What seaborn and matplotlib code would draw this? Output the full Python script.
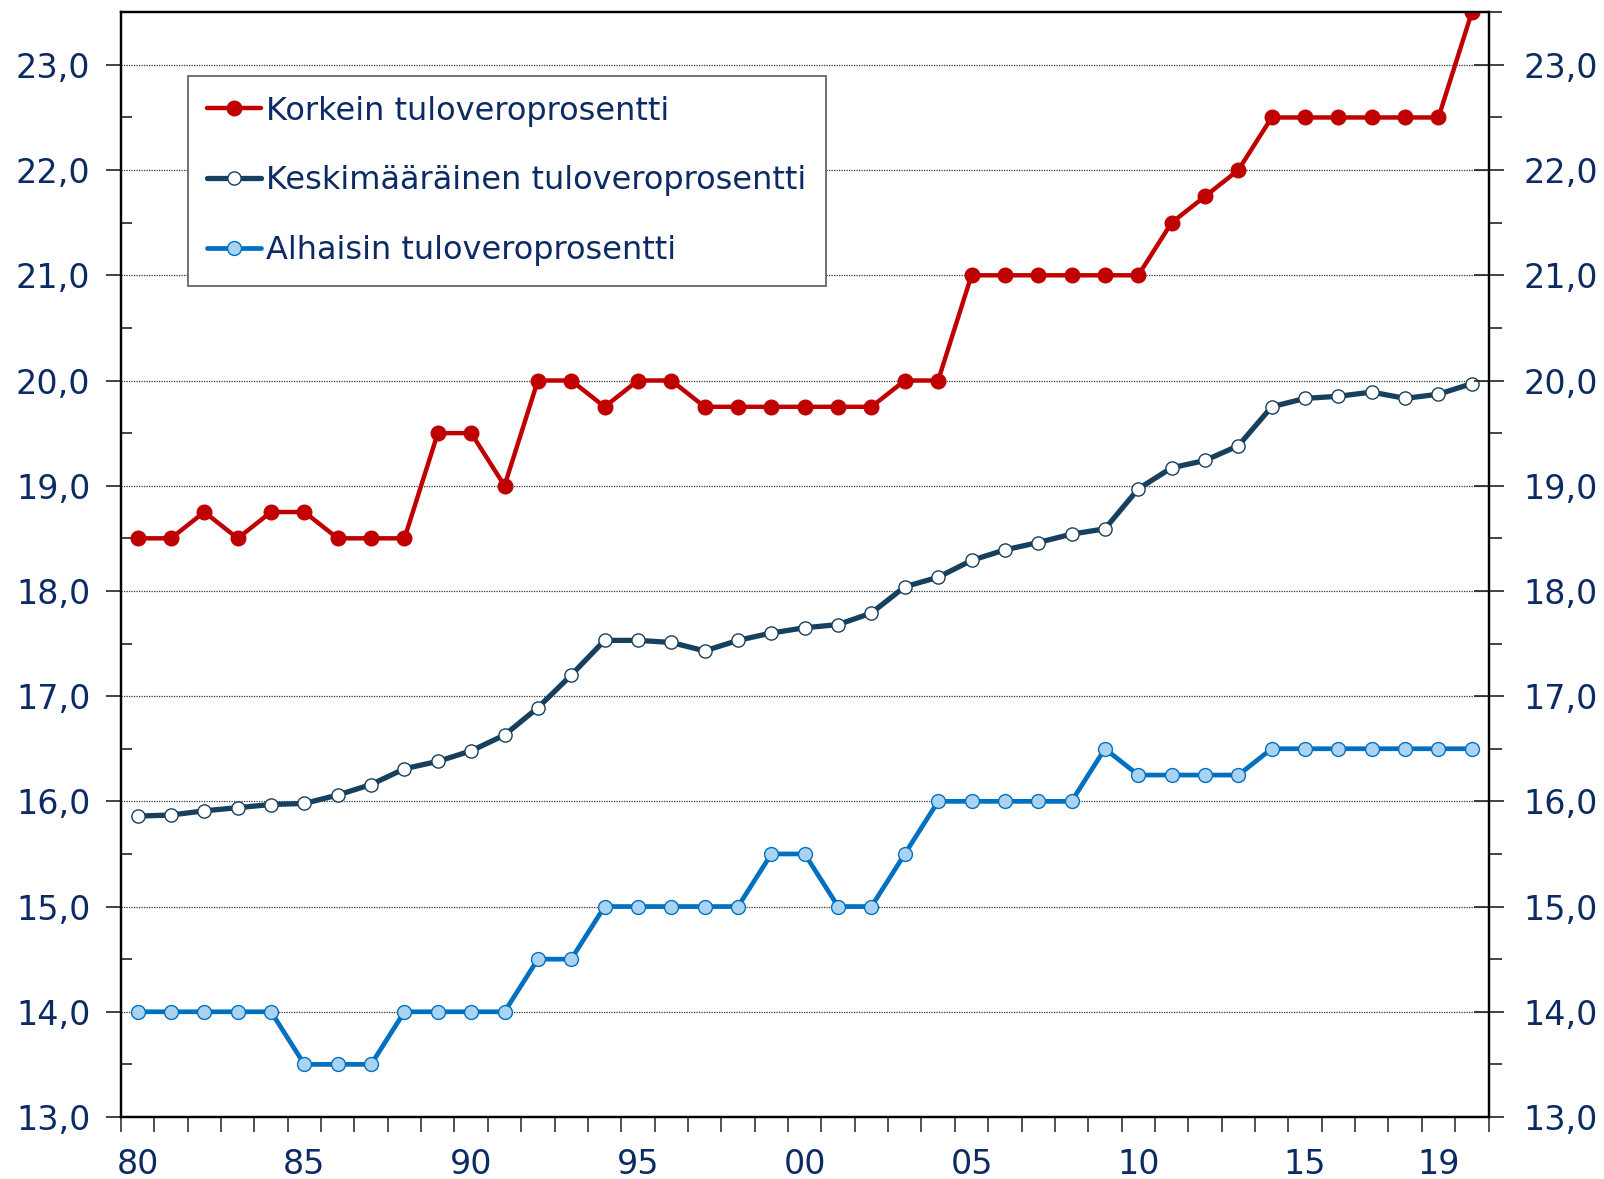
import numpy as np
import pandas as pd
import matplotlib
matplotlib.use("Agg")
import matplotlib.pyplot as plt
import seaborn as sns
from matplotlib.ticker import FixedLocator, FuncFormatter

years = list(range(1980, 2021))

korkein = [18.5, 18.5, 18.75, 18.5, 18.75, 18.75, 18.5, 18.5, 18.5, 19.5,
           19.5, 19.0, 20.0, 20.0, 19.75, 20.0, 20.0, 19.75, 19.75, 19.75,
           19.75, 19.75, 19.75, 20.0, 20.0, 21.0, 21.0, 21.0, 21.0, 21.0,
           21.0, 21.5, 21.75, 22.0, 22.5, 22.5, 22.5, 22.5, 22.5, 22.5, 23.5]

keskimaarainen = [15.86, 15.87, 15.91, 15.94, 15.97, 15.98, 16.06, 16.16, 16.31, 16.38,
                  16.48, 16.63, 16.89, 17.20, 17.53, 17.53, 17.51, 17.43, 17.53, 17.60,
                  17.65, 17.68, 17.79, 18.04, 18.13, 18.29, 18.39, 18.46, 18.54, 18.59,
                  18.97, 19.17, 19.24, 19.38, 19.75, 19.83, 19.85, 19.89, 19.83, 19.87, 19.97]

alhaisin = [14.0, 14.0, 14.0, 14.0, 14.0, 13.5, 13.5, 13.5, 14.0, 14.0,
            14.0, 14.0, 14.5, 14.5, 15.0, 15.0, 15.0, 15.0, 15.0, 15.5,
            15.5, 15.0, 15.0, 15.5, 16.0, 16.0, 16.0, 16.0, 16.0, 16.5,
            16.25, 16.25, 16.25, 16.25, 16.5, 16.5, 16.5, 16.5, 16.5, 16.5, 16.5]

series_labels = ["Korkein tuloveroprosentti",
                 "Keskimääräinen tuloveroprosentti",
                 "Alhaisin tuloveroprosentti"]

xtick_years = [1980, 1985, 1990, 1995, 2000, 2005, 2010, 2015, 2019]
xtick_labels = ["80", "85", "90", "95", "00", "05", "10", "15", "19"]
ytick_values = list(range(13, 24))

sns.set_style("white")
plt.rcParams["font.family"] = ["DejaVu Sans"]

TEXT = "#0c2a64"
RED = "#c00000"
NAVY = "#17405e"
BLUE = "#0070c0"
LIGHT = "#a9d3f1"

fig = plt.figure(figsize=(16.04, 11.79), dpi=100)
ax = fig.add_axes([0.0754, 0.0526, 0.928 - 0.0754, 0.9896 - 0.0526])

df = pd.DataFrame({"year": years, "k": korkein, "m": keskimaarainen, "a": alhaisin})

sns.lineplot(data=df, x="year", y="k", ax=ax, color=RED, linewidth=3.2,
             marker="o", markersize=10.5, markerfacecolor=RED, markeredgecolor=RED,
             markeredgewidth=1.0, label=series_labels[0], zorder=5)
sns.lineplot(data=df, x="year", y="m", ax=ax, color=NAVY, linewidth=3.8,
             marker="o", markersize=9.5, markerfacecolor="white", markeredgecolor=NAVY,
             markeredgewidth=1.0, label=series_labels[1], zorder=4)
sns.lineplot(data=df, x="year", y="a", ax=ax, color=BLUE, linewidth=3.4,
             marker="o", markersize=10, markerfacecolor=LIGHT, markeredgecolor=BLUE,
             markeredgewidth=1.0, label=series_labels[2], zorder=3)

ax.set_xlim(1979.5, 2020.5)
ax.set_ylim(13, 23.5)
ax.set_xlabel("")
ax.set_ylabel("")

# x axis: labels at years, ticks at year boundaries
ax.xaxis.set_major_locator(FixedLocator(xtick_years))
ax.set_xticklabels(xtick_labels)
ax.xaxis.set_minor_locator(FixedLocator(np.arange(1979.5, 2021.0, 1.0)))
ax.tick_params(axis="x", which="major", length=0, pad=22, labelsize=24, labelcolor=TEXT)
ax.tick_params(axis="x", which="minor", direction="out", length=11, width=1.2, color="#333333", bottom=True)

fmt = FuncFormatter(lambda v, p: f"{v:.1f}".replace(".", ","))
ax.yaxis.set_major_locator(FixedLocator(ytick_values))
ax.yaxis.set_minor_locator(FixedLocator(np.arange(13.5, 23.6, 1.0)))
ax.yaxis.set_major_formatter(fmt)
ax.tick_params(axis="y", which="major", direction="out", length=11, width=1.2,
               color="#222222", pad=11, labelsize=24, labelcolor=TEXT, left=True)
ax.tick_params(axis="y", which="minor", direction="in", length=8, width=1.2,
               color="#222222", left=True)

ax.grid(False)
for v in ytick_values:
    ax.axhline(v, color="#333333", linewidth=0.9, linestyle=(0, (1, 1)), zorder=1)

for s in ax.spines.values():
    s.set_visible(True)
    s.set_color("black")
    s.set_linewidth(1.6)

ax2 = ax.twinx()
ax2.set_ylim(13, 23.5)
ax2.yaxis.set_major_locator(FixedLocator(ytick_values))
ax2.yaxis.set_minor_locator(FixedLocator(np.arange(13.5, 23.6, 1.0)))
ax2.yaxis.set_major_formatter(fmt)
ax2.tick_params(axis="y", which="major", direction="inout", length=22, width=1.2,
                color="#222222", pad=14, labelsize=24, labelcolor=TEXT, right=True)
ax2.tick_params(axis="y", which="minor", direction="out", length=9, width=1.2,
                color="#222222", right=True)
for s in ax2.spines.values():
    s.set_visible(True)
    s.set_color("black")
    s.set_linewidth(1.6)
ax2.set_ylabel("")

leg = ax.legend(loc="upper left", bbox_to_anchor=(0.049, 0.942), borderaxespad=0,
                fontsize=23, frameon=True, fancybox=False, shadow=False,
                handlelength=1.7, handletextpad=0.15, labelspacing=1.22,
                borderpad=0.6, edgecolor="#666666", facecolor="white", framealpha=1)
leg.get_frame().set_linewidth(1.3)
for t in leg.get_texts():
    t.set_color(TEXT)
leg.set_zorder(10)

fig.savefig("out.png", dpi=100)
